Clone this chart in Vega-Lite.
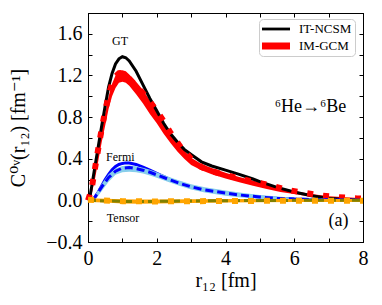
{
  "$schema": "https://vega.github.io/schema/vega-lite/v6.json",
  "width": 275,
  "height": 229,
  "autosize": "none",
  "padding": {"left": 88, "top": 13, "right": 19, "bottom": 63},
  "background": "white",
  "config": {
    "view": {"stroke": "black", "strokeWidth": 1},
    "font": "Liberation Serif, DejaVu Serif",
    "axis": {
      "labelFont": "Liberation Serif, DejaVu Serif", "labelFontSize": 20, "labelColor": "black",
      "titleFont": "Liberation Serif, DejaVu Serif", "titleFontSize": 20, "titleFontWeight": "normal", "titleColor": "black",
      "domainColor": "black", "tickColor": "black", "tickSize": -4, "grid": false,
      "labelFlush": false, "labelOverlap": false, "labelBound": false
    },
    "legend": {
      "labelFont": "Liberation Serif, DejaVu Serif", "labelFontSize": 13, "labelColor": "black"
    }
  },
  "datasets": {
    "gtBand": [
      {"r":0,"lo":0,"hi":0.02},{"r":0.1,"lo":0.05,"hi":0.1},{"r":0.2,"lo":0.2,"hi":0.3},{"r":0.3,"lo":0.38,"hi":0.5},
      {"r":0.4,"lo":0.56,"hi":0.68},{"r":0.5,"lo":0.72,"hi":0.84},{"r":0.6,"lo":0.88,"hi":1.0},{"r":0.7,"lo":1.0,"hi":1.12},
      {"r":0.8,"lo":1.08,"hi":1.2},{"r":0.9,"lo":1.13,"hi":1.25},{"r":1.0,"lo":1.14,"hi":1.25},{"r":1.1,"lo":1.13,"hi":1.24},
      {"r":1.2,"lo":1.1,"hi":1.21},{"r":1.4,"lo":1.02,"hi":1.14},{"r":1.6,"lo":0.93,"hi":1.06},{"r":1.8,"lo":0.83,"hi":0.96},
      {"r":2.0,"lo":0.74,"hi":0.86},{"r":2.2,"lo":0.64,"hi":0.75},{"r":2.4,"lo":0.55,"hi":0.65},{"r":2.6,"lo":0.47,"hi":0.56},
      {"r":2.8,"lo":0.4,"hi":0.48},{"r":3.0,"lo":0.34,"hi":0.41},{"r":3.3,"lo":0.29,"hi":0.35},{"r":3.6,"lo":0.25,"hi":0.31},
      {"r":4.0,"lo":0.21,"hi":0.265},{"r":4.4,"lo":0.175,"hi":0.225},{"r":4.8,"lo":0.14,"hi":0.19},{"r":5.2,"lo":0.11,"hi":0.155},
      {"r":5.6,"lo":0.08,"hi":0.12},{"r":6.0,"lo":0.06,"hi":0.09},{"r":6.5,"lo":0.035,"hi":0.06},{"r":7.0,"lo":0.02,"hi":0.04},
      {"r":7.5,"lo":0.01,"hi":0.03},{"r":8.0,"lo":0.005,"hi":0.02}
    ],
    "gtNCSM": [
      {"r":0,"v":0},{"r":0.05,"v":0.02},{"r":0.1,"v":0.12},{"r":0.2,"v":0.32},{"r":0.3,"v":0.52},{"r":0.4,"v":0.72},
      {"r":0.5,"v":0.91},{"r":0.6,"v":1.09},{"r":0.7,"v":1.22},{"r":0.8,"v":1.31},{"r":0.9,"v":1.36},{"r":1.0,"v":1.38},
      {"r":1.1,"v":1.37},{"r":1.2,"v":1.34},{"r":1.4,"v":1.24},{"r":1.6,"v":1.11},{"r":1.8,"v":0.98},{"r":2.0,"v":0.86},
      {"r":2.2,"v":0.74},{"r":2.4,"v":0.64},{"r":2.6,"v":0.56},{"r":2.8,"v":0.49},{"r":3.0,"v":0.44},{"r":3.3,"v":0.37},
      {"r":3.6,"v":0.33},{"r":4.0,"v":0.29},{"r":4.4,"v":0.25},{"r":4.8,"v":0.205},{"r":5.0,"v":0.18},{"r":5.5,"v":0.125},
      {"r":6.0,"v":0.08},{"r":6.5,"v":0.045},{"r":7.0,"v":0.02},{"r":7.5,"v":0.006},{"r":8.0,"v":0.0}
    ],
    "gtGCM": [
      {"r":0,"v":0},{"r":0.1,"v":0.1},{"r":0.2,"v":0.3},{"r":0.3,"v":0.5},{"r":0.4,"v":0.69},{"r":0.5,"v":0.86},
      {"r":0.6,"v":1.01},{"r":0.7,"v":1.12},{"r":0.8,"v":1.19},{"r":0.9,"v":1.22},{"r":1.0,"v":1.22},{"r":1.1,"v":1.2},
      {"r":1.2,"v":1.17},{"r":1.4,"v":1.1},{"r":1.6,"v":1.03},{"r":1.8,"v":0.95},{"r":2.0,"v":0.86},{"r":2.2,"v":0.76},
      {"r":2.4,"v":0.65},{"r":2.7,"v":0.51},{"r":3.0,"v":0.4},{"r":3.3,"v":0.32},{"r":3.6,"v":0.28},
      {"r":4.0,"v":0.245},{"r":4.4,"v":0.21},{"r":4.8,"v":0.18},{"r":5.3,"v":0.145},{"r":5.8,"v":0.1},
      {"r":6.3,"v":0.072},{"r":6.8,"v":0.045},{"r":7.3,"v":0.03},{"r":7.8,"v":0.02},{"r":8.0,"v":0.018}
    ],
    "fBand": [
      {"r":0.1,"lo":-0.005,"hi":0.01},{"r":0.2,"lo":0.0,"hi":0.05},{"r":0.4,"lo":0.09,"hi":0.16},{"r":0.6,"lo":0.18,"hi":0.25},
      {"r":0.8,"lo":0.245,"hi":0.305},{"r":1.0,"lo":0.27,"hi":0.33},{"r":1.2,"lo":0.275,"hi":0.335},{"r":1.4,"lo":0.27,"hi":0.328},
      {"r":1.6,"lo":0.258,"hi":0.314},{"r":1.8,"lo":0.24,"hi":0.295},{"r":2.0,"lo":0.218,"hi":0.27},{"r":2.4,"lo":0.17,"hi":0.22},
      {"r":2.7,"lo":0.135,"hi":0.185},{"r":3.0,"lo":0.105,"hi":0.155},{"r":3.4,"lo":0.075,"hi":0.125},{"r":4.0,"lo":0.045,"hi":0.095},
      {"r":4.4,"lo":0.03,"hi":0.075},{"r":5.0,"lo":0.012,"hi":0.052},{"r":5.5,"lo":0.005,"hi":0.037},{"r":6.0,"lo":0.0,"hi":0.025},
      {"r":7.0,"lo":-0.005,"hi":0.013},{"r":8.0,"lo":-0.005,"hi":0.008}
    ],
    "fNCSM": [
      {"r":0,"v":0},{"r":0.1,"v":0.0},{"r":0.2,"v":0.03},{"r":0.3,"v":0.08},{"r":0.4,"v":0.14},{"r":0.5,"v":0.2},
      {"r":0.6,"v":0.25},{"r":0.7,"v":0.295},{"r":0.8,"v":0.325},{"r":0.9,"v":0.345},{"r":1.0,"v":0.355},{"r":1.1,"v":0.36},
      {"r":1.2,"v":0.358},{"r":1.4,"v":0.345},{"r":1.6,"v":0.32},{"r":1.8,"v":0.29},{"r":2.0,"v":0.26},{"r":2.4,"v":0.2},
      {"r":2.7,"v":0.16},{"r":3.0,"v":0.13},{"r":3.4,"v":0.1},{"r":4.0,"v":0.07},{"r":4.4,"v":0.052},{"r":5.0,"v":0.032},
      {"r":5.5,"v":0.02},{"r":6.0,"v":0.012},{"r":7.0,"v":0.004},{"r":8.0,"v":0.0}
    ],
    "fGCM": [
      {"r":0.1,"v":0.0},{"r":0.2,"v":0.03},{"r":0.4,"v":0.13},{"r":0.6,"v":0.22},{"r":0.8,"v":0.28},{"r":1.0,"v":0.31},
      {"r":1.2,"v":0.315},{"r":1.4,"v":0.305},{"r":1.6,"v":0.29},{"r":1.8,"v":0.27},{"r":2.0,"v":0.245},{"r":2.4,"v":0.195},
      {"r":2.7,"v":0.16},{"r":3.0,"v":0.13},{"r":3.4,"v":0.1},{"r":4.0,"v":0.07},{"r":4.4,"v":0.052},{"r":5.0,"v":0.032},
      {"r":5.5,"v":0.02},{"r":6.0,"v":0.012},{"r":7.0,"v":0.004},{"r":8.0,"v":0.0}
    ],
    "tBand": [
      {"r":0,"lo":-0.015,"hi":0.02},{"r":0.5,"lo":-0.02,"hi":0.015},{"r":1,"lo":-0.03,"hi":0.01},{"r":1.5,"lo":-0.032,"hi":0.008},
      {"r":2,"lo":-0.03,"hi":0.008},{"r":3,"lo":-0.025,"hi":0.01},{"r":4,"lo":-0.02,"hi":0.012},{"r":5,"lo":-0.018,"hi":0.012},
      {"r":6,"lo":-0.016,"hi":0.012},{"r":7,"lo":-0.015,"hi":0.012},{"r":8,"lo":-0.015,"hi":0.012}
    ],
    "tNCSM": [
      {"r":0,"v":0},{"r":0.5,"v":-0.005},{"r":1,"v":-0.01},{"r":1.5,"v":-0.012},{"r":2,"v":-0.01},{"r":3,"v":-0.006},
      {"r":4,"v":-0.003},{"r":5,"v":-0.001},{"r":6,"v":0},{"r":8,"v":0}
    ],
    "tGCM": [
      {"r":0,"v":0.005},{"r":1,"v":-0.008},{"r":2,"v":-0.01},{"r":3,"v":-0.008},{"r":4,"v":-0.006},{"r":5,"v":-0.005},
      {"r":6,"v":-0.004},{"r":8,"v":-0.004}
    ],
    "smallText": [
      {"r":0.93,"v":1.535,"t":"GT"},{"r":0.94,"v":0.42,"t":"Fermi"},{"r":1.02,"v":-0.17,"t":"Tensor"}
    ],
    "bigText": [
      {"r":6.47,"v":0.9,"t":"⁶He→⁶Be"},{"r":7.29,"v":-0.2,"t":"(a)"}
    ],
    "legendItems": [
      {"s":"IT-NCSM","r":-5,"v":-5},{"s":"IM-GCM","r":-5,"v":-5}
    ]
  },
  "layer": [
    {
      "data": {"name": "gtBand"},
      "mark": {"type": "area", "color": "#ff0000"},
      "encoding": {
        "x": {"field": "r", "type": "quantitative", "scale": {"domain": [0, 8], "nice": false, "zero": false},
              "axis": {"orient": "bottom", "title": "r₁₂ [fm]", "values": [0,1,2,3,4,5,6,7,8], "labelExpr": "datum.value % 2 === 0 ? datum.label : ''", "labelPadding": 10, "titlePadding": 2}},
        "y": {"field": "lo", "type": "quantitative", "scale": {"domain": [-0.4, 1.8], "nice": false, "zero": false},
              "axis": {"orient": "left", "title": "C⁰ᵛ(r₁₂) [fm⁻¹]", "values": [-0.4,-0.2,0,0.2,0.4,0.6,0.8,1.0,1.2,1.4,1.6,1.8], "format": ".1f", "labelExpr": "round(datum.value*10) % 4 === 0 ? datum.label : ''", "labelPadding": 10, "titlePadding": 17}},
        "y2": {"field": "hi"}
      }
    },
    {
      "data": {"name": "gtNCSM"},
      "mark": {"type": "line", "color": "black", "strokeWidth": 3},
      "encoding": {
        "x": {"field": "r", "type": "quantitative",
              "axis": {"orient": "top", "title": null, "labels": false, "values": [0,1,2,3,4,5,6,7,8]}},
        "y": {"field": "v", "type": "quantitative",
              "axis": {"orient": "right", "title": null, "labels": false, "values": [-0.4,-0.2,0,0.2,0.4,0.6,0.8,1.0,1.2,1.4,1.6,1.8]}}
      }
    },
    {
      "data": {"name": "gtGCM"},
      "mark": {"type": "line", "color": "#ff0000", "strokeWidth": 6, "strokeDash": [6, 10], "strokeCap": "butt"},
      "encoding": {
        "x": {"field": "r", "type": "quantitative", "axis": null},
        "y": {"field": "v", "type": "quantitative", "axis": null}
      }
    },
    {
      "data": {"name": "fNCSM"},
      "mark": {"type": "line", "color": "#0000ff", "strokeWidth": 3},
      "encoding": {
        "x": {"field": "r", "type": "quantitative", "axis": null},
        "y": {"field": "v", "type": "quantitative", "axis": null}
      }
    },
    {
      "data": {"name": "fBand"},
      "mark": {"type": "area", "color": "#87ceeb"},
      "encoding": {
        "x": {"field": "r", "type": "quantitative", "axis": null},
        "y": {"field": "lo", "type": "quantitative", "axis": null},
        "y2": {"field": "hi"}
      }
    },
    {
      "data": {"name": "fGCM"},
      "mark": {"type": "line", "color": "#0000ff", "strokeWidth": 3, "strokeDash": [8, 4]},
      "encoding": {
        "x": {"field": "r", "type": "quantitative", "axis": null},
        "y": {"field": "v", "type": "quantitative", "axis": null}
      }
    },
    {
      "data": {"name": "tBand"},
      "mark": {"type": "area", "color": "#ffa500"},
      "encoding": {
        "x": {"field": "r", "type": "quantitative", "axis": null},
        "y": {"field": "lo", "type": "quantitative", "axis": null},
        "y2": {"field": "hi"}
      }
    },
    {
      "data": {"name": "tNCSM"},
      "mark": {"type": "line", "color": "#808000", "strokeWidth": 3, "strokeDash": [8, 4]},
      "encoding": {
        "x": {"field": "r", "type": "quantitative", "axis": null},
        "y": {"field": "v", "type": "quantitative", "axis": null}
      }
    },
    {
      "data": {"name": "tGCM"},
      "mark": {"type": "line", "color": "#ffa500", "strokeWidth": 6, "strokeDash": [6, 10], "strokeCap": "butt"},
      "encoding": {
        "x": {"field": "r", "type": "quantitative", "axis": null},
        "y": {"field": "v", "type": "quantitative", "axis": null}
      }
    },
    {
      "data": {"name": "smallText"},
      "mark": {"type": "text", "font": "Liberation Serif, DejaVu Serif", "fontSize": 12, "color": "black", "align": "center", "baseline": "middle"},
      "encoding": {
        "x": {"field": "r", "type": "quantitative", "axis": null},
        "y": {"field": "v", "type": "quantitative", "axis": null},
        "text": {"field": "t"}
      }
    },
    {
      "data": {"name": "bigText"},
      "mark": {"type": "text", "font": "Liberation Serif, DejaVu Serif", "fontSize": 18, "color": "black", "align": "center", "baseline": "middle"},
      "encoding": {
        "x": {"field": "r", "type": "quantitative", "axis": null},
        "y": {"field": "v", "type": "quantitative", "axis": null},
        "text": {"field": "t"}
      }
    },
    {
      "data": {"name": "legendItems"},
      "mark": {"type": "point", "filled": true, "clip": true, "opacity": 1},
      "encoding": {
        "x": {"field": "r", "type": "quantitative", "axis": null},
        "y": {"field": "v", "type": "quantitative", "axis": null},
        "color": {"field": "s", "type": "nominal",
                  "scale": {"domain": ["IT-NCSM", "IM-GCM"], "range": ["#000000", "#ff0000"]},
                  "legend": {"title": null, "orient": "none", "legendX": 171, "legendY": 6,
                             "symbolSize": 196, "symbolStrokeWidth": 0, "symbolOpacity": 1, "labelOffset": 23,
                             "padding": 3, "rowPadding": 3, "strokeColor": "#cccccc", "cornerRadius": 4,
                             "fillColor": "rgba(255,255,255,0.8)", "labelFontSize": 13}},
        "shape": {"field": "s", "type": "nominal",
                  "scale": {"domain": ["IT-NCSM", "IM-GCM"], "range": ["M-1,-0.2L3,-0.2L3,0.2L-1,0.2Z", "M-1,-0.5L3,-0.5L3,0.5L-1,0.5Z"]}}
      }
    }
  ]
}
